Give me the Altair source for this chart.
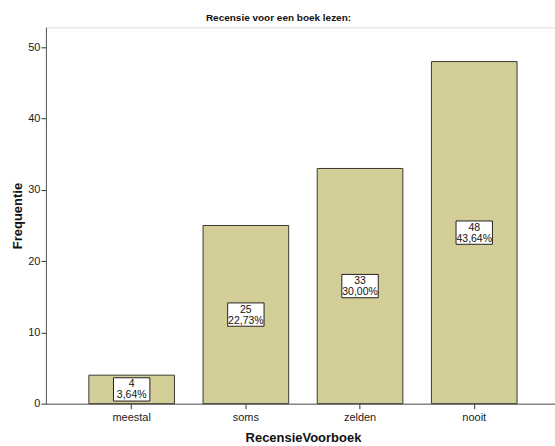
import altair as alt
import pandas as pd

categories = ["meestal", "soms", "zelden", "nooit"]
counts = [4, 25, 33, 48]
percents = ["3,64%", "22,73%", "30,00%", "43,64%"]

df = pd.DataFrame({
    "cat": categories,
    "count": counts,
    "pct": percents,
})
df["mid"] = df["count"] / 2
df["label"] = df["count"].astype(str) + "\n" + df["pct"]

FONT = "Liberation Sans"

x_enc = alt.X(
    "cat:N",
    sort=categories,
    scale=alt.Scale(range=[0, 515], paddingInner=0.25, paddingOuter=0.376),
    axis=alt.Axis(
        title="RecensieVoorboek",
        labelAngle=0,
        labelFont=FONT,
        labelFontSize=11,
        labelColor="#222222",
        labelPadding=3,
        tickColor="#333333",
        tickSize=5,
        domainColor="#555555",
        titleFont=FONT,
        titleFontSize=13,
        titleFontWeight="bold",
        titleColor="#111111",
        titlePadding=9,
        grid=False,
    ),
)

y_scale = alt.Scale(domain=[0, 52.8], nice=False)

bars = alt.Chart(df).mark_bar(
    color="#d3ce98", stroke="#3a3a30", strokeWidth=1
).encode(
    x=x_enc,
    y=alt.Y(
        "count:Q",
        scale=y_scale,
        axis=alt.Axis(
            title="Frequentie",
            values=[0, 10, 20, 30, 40, 50],
            labelFont=FONT,
            labelFontSize=11,
            labelColor="#222222",
            labelPadding=1,
            tickColor="#333333",
            tickSize=5,
            domainColor="#555555",
            titleFont=FONT,
            titleFontSize=13,
            titleFontWeight="bold",
            titleColor="#111111",
            titlePadding=3,
            grid=False,
        ),
    ),
)

box_shape = "M-1,-0.64L1,-0.64L1,0.64L-1,0.64Z"

boxes = alt.Chart(df).mark_point(
    shape=box_shape, filled=True, fill="white", stroke="#222222",
    strokeWidth=1, opacity=1, size=1330
).encode(
    x=alt.X("cat:N", sort=categories),
    y=alt.Y("mid:Q", scale=y_scale),
)

texts = alt.Chart(df).mark_text(
    font=FONT, fontSize=10.5, color="#111111", lineBreak="\n",
    baseline="middle", lineHeight=11, dy=-5
).encode(
    x=alt.X("cat:N", sort=categories),
    y=alt.Y("mid:Q", scale=y_scale),
    text="label:N",
)

chart = alt.layer(bars, boxes, texts).properties(
    width=510,
    height=377,
    autosize=alt.AutoSizeParams(type="none"),
    padding={"left": 46, "top": 27, "right": 0, "bottom": 42},
    title=alt.TitleParams(
        "Recensie voor een boek lezen:",
        font=FONT,
        fontSize=10,
        fontWeight="bold",
        color="#111111",
        anchor="middle",
        offset=4,
        dx=-22,
    ),
).configure_view(
    fill="#f0f0f0", stroke="#8a8a8a", strokeWidth=1.5
).configure(background="white")

chart.save("out.html", embed_options={"renderer": "svg", "actions": False})
